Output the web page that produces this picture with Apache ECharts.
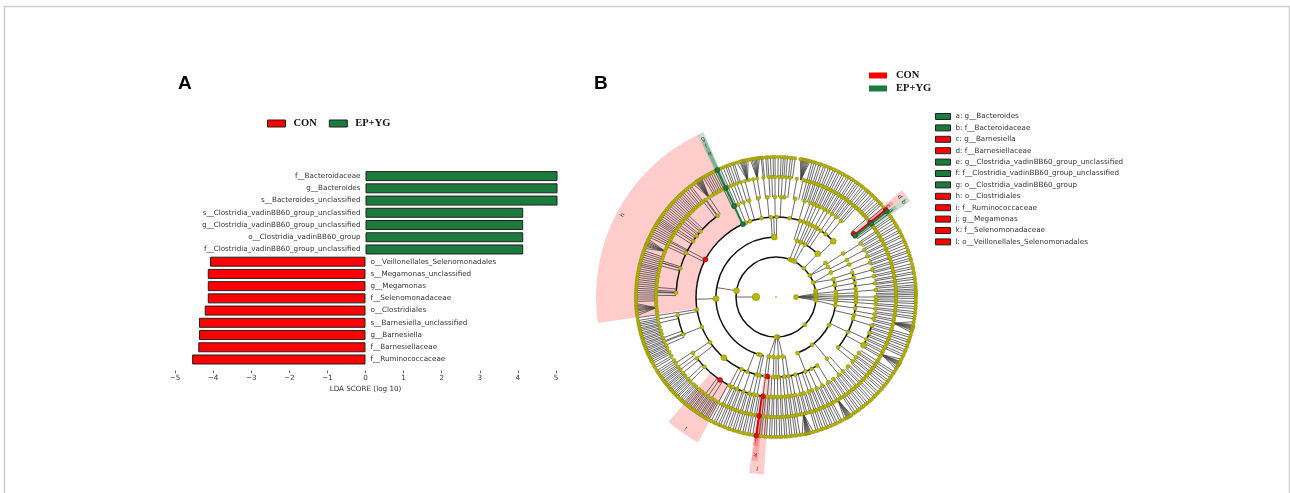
<!DOCTYPE html>
<html>
<head>
<meta charset="utf-8">
<style>html,body{margin:0;padding:0;background:#fff;}</style>
<script src="https://cdn.jsdelivr.net/npm/echarts@6/dist/echarts.min.js"></script>
</head>
<body>
<div id="chart-dom" style="width:1290px;height:493px;"></div>
<script>
// panel A, top row first
const taxa = ['f__Bacteroidaceae','g__Bacteroides','s__Bacteroides_unclassified','s__Clostridia_vadinBB60_group_unclassified','g__Clostridia_vadinBB60_group_unclassified','o__Clostridia_vadinBB60_group','f__Clostridia_vadinBB60_group_unclassified','o__Veillonellales_Selenomonadales','s__Megamonas_unclassified','g__Megamonas','f__Selenomonadaceae','o__Clostridiales','s__Barnesiella_unclassified','g__Barnesiella','f__Barnesiellaceae','f__Ruminococcaceae'];
const conScores = [null,null,null,null,null,null,null,-4.08,-4.14,-4.14,-4.14,-4.22,-4.37,-4.37,-4.39,-4.55];
const epygScores = [5.04,5.04,5.04,4.14,4.14,4.14,4.14,null,null,null,null,null,null,null,null,null];
const scoreTicks = [-5,5];

// panel B, clades a to l: angle from, angle to, inner radius, outer radius
const cladeNames = ['a: g__Bacteroides','b: f__Bacteroidaceae','c: g__Barnesiella','d: f__Barnesiellaceae','e: g__Clostridia_vadinBB60_group_unclassified','f: f__Clostridia_vadinBB60_group_unclassified','g: o__Clostridia_vadinBB60_group','h: o__Clostridiales','i: f__Ruminococcaceae','j: g__Megamonas','k: f__Selenomonadaceae','l: o__Veillonellales_Selenomonadales'];
const cladeGroups = ['EP+YG','EP+YG','CON','CON','EP+YG','EP+YG','EP+YG','CON','CON','CON','CON','CON'];
const cladeFrom = [36.2,35.6,38.2,37.6,114.2,114,113.8,115.6,229.3,261,261.5,261.3];
const cladeTo = [37.6,37.6,39.8,40.3,115.4,115.6,115.8,188.3,241.8,263,263.6,266.1];
const cladeInner = [120,100,120,100,120,100,80,80,100,120,100,80];
const cladeOuter = [150,165,150,165,164,172,180,180,165,150,165,178];

// cladogram rings, node angles in degrees read counter-clockwise from east
const ring20 = [180,0];
const ring40 = [171,70,68,65,62,46,32.5,21,9,5,3,1,359,357,355,316,273,272,271,270];
const ring60 = [91.6,181.6,253,255,263,267.5,272.3,276.5,291,307,332,352,356,358,0,2,5,11.6,17,24,30,34.5,46,61,65.6,69.5];
const ring80 = [44.3,51.7,56,58.8,60.5,62.9,65,67,70,72.5,80.3,89.5,93.6,100.4,109,112,114.4,152,189,202,214.5,229.4,244.5,249,256,258,262,264,268,270,272,276,279,284,291.6,296.4,301,309.6,321,334,344.4,347,352,356,358,0,1,3,6,10,14,17.8,23.9,27.6,33];
const ring100 = [0,4,7.9,12,15.8,20,24,28,32.3,37.7,39.3,49.5,53,56,58.7,61,63.9,66,67.9,70,73.4,79,85.2,87,90.6,95,100.3,105.6,109,112.2,114.7,125.6,139,142.5,146,153.9,163.3,177.5,190.5,202,214,217.7,224.4,236,242.2,244.4,247,251,254.6,257,259,262.5,265,267,269,271,273,275,277,279,281,284,286,289,291,294,297.6,301.6,305,309,312,316,320,323,326,331.2,335,339,343.4,347.4,350,353.3,356,358];
const ring120 = [0.2,1.1,1.9,3,3.8,5,5.9,7.2,7.9,9.3,10.1,11.6,12.5,14,14.8,16.2,17.1,18.6,19.4,20.9,21.8,23.2,24.1,25.6,26.4,27.9,28.8,30.2,31.1,32.5,33.4,34.8,35.6,36.6,37.6,38.4,40.8,41.6,42.9,43.8,45,45.9,47.2,48.1,49.3,50.2,51.5,52.4,53.6,54.5,55.8,56.7,57.9,58.8,60.1,61,62.2,63.1,64.4,65.3,66.5,67.4,68.7,69.6,70.8,71.7,73,73.9,75.1,76,76.9,80,83.2,85.1,87,88.6,90.5,92,93.4,96,99,101,103,105,107,109,110.5,112,113.5,114.7,116,117.3,118.3,119.7,120.7,122.1,123.9,126,127.3,128.3,129.7,131,132.1,133.5,134.5,135.9,137,138.3,139.3,140.7,141.7,143.1,144.1,145.5,146.5,147.9,149,150.3,151.3,152.7,153.9,155.2,156.2,157.6,158.6,160,161,162.4,163.4,164.8,165.8,167.2,168.2,169.6,170.6,172,173,174.4,175.4,176.8,177.8,179.2,180.2,181.6,182.6,184,185.1,186.5,187.5,188.9,190.6,192.5,194.2,196.2,197.9,199.9,201.5,203.6,205.2,207.3,209.3,211.7,213.4,215.5,217.2,219.2,220.9,222.9,224.6,226.7,228.3,230.3,232,234,235.6,237.6,239.3,241.3,243.4,244.3,245.8,246.7,248.1,249,250.4,251.3,252.7,253.6,255,255.9,257.3,258.2,259.6,260.6,261.9,263.3,264.2,265.6,266.5,267.9,268.8,270.2,271.1,272.5,273.4,274.8,275.7,277.1,278,279.4,280.3,281.7,282.6,284,284.9,286.3,287.2,288.6,289.5,290.9,291.8,293.2,294.1,295.5,296.4,297.8,298.7,300.1,301,302.4,303.3,304.7,305.6,307,307.9,309.3,310.2,311.6,312.5,313.9,314.8,316.2,317.1,318.5,319.4,320.8,321.7,323.1,324,325.4,326.3,327.7,328.6,330,330.9,332.3,333.2,334.6,335.5,336.9,337.8,339.2,340.1,341.5,342.4,343.8,344.7,346.1,347,348.4,349.3,350.7,351.6,353,353.9,355.3,356.2,357.6,358.5,359.5];
const ring140 = [0.3,1.1,1.8,2.6,3.3,4.2,5,6.1,7.3,8.2,9.6,10.4,11.7,12.6,13.8,15.2,16.1,17.3,18.6,19.4,20.7,21.9,23.1,24,25.4,26.3,27.6,28.5,29.9,30.8,32,33.2,34.3,35.1,36.4,37.6,38.4,39.8,41.2,42.1,43,44.2,45.1,46.3,47.2,48.4,49.3,50.2,51.4,52.3,53.5,54.4,55.3,56.5,57.4,58.6,59.5,60.7,61.6,62.8,63.7,64.9,65.8,67,67.9,69.1,70,71.2,72.1,73.3,74.2,75.1,75.9,76.5,77,77.5,78,78.5,79,79.5,80,82.1,83.2,84.1,85.3,86.2,87,87.9,89.1,90.4,91.2,92.3,93.4,94.2,95.5,96.1,96.8,97.4,98,98.6,99.2,99.9,100.6,101.5,102.4,103,103.5,104,104.5,105,106.2,107.3,108.1,109.2,110.3,111.1,112.2,113.4,114.8,115.9,116.8,117.7,118.6,119.5,120.4,121.3,122,122.4,122.8,123.2,123.6,124,124.4,124.8,125.2,126.3,127.4,128.3,129.4,130.3,131.4,132.3,133.1,133.9,134.8,135.7,136.6,137.5,138.4,139.3,140.2,141.1,142,142.9,143.8,144.7,145.6,146.3,147,147.7,148.4,149.3,150.2,151.1,152,152.9,153.8,154.7,155.6,156.3,157,157.6,158.2,158.8,159.7,160.6,161.5,162.4,163.3,164.2,165.1,166,166.7,167.4,168.3,169.2,170.1,171,171.9,172.8,173.7,174.6,175.5,176.4,177.3,178.2,179.1,180,180.9,181.8,182.7,183.4,184,184.6,185.2,185.8,186.7,187.6,188.5,189.7,190.6,191.3,192,192.8,193.4,194.1,194.9,195.5,196.2,197,197.6,198.3,199.1,199.7,200.4,201.2,201.8,202.5,203.3,203.9,204.6,205.4,206,206.7,207.5,208.3,209.5,210.4,211.7,212.6,213.5,214.4,215.1,215.8,216.6,217.2,217.9,218.7,219.3,220,220.8,221.4,222.1,222.9,223.5,224.2,225,225.6,226.5,227.2,227.9,228.7,229.3,230,230.8,231.4,232.1,232.9,233.5,234.2,235,235.6,236.3,237.1,237.7,238.4,239.2,239.8,240.5,241.3,242.4,243.6,244.5,245.7,246.6,247.8,248.7,249.9,250.8,252,252.9,254.1,255,256.2,257.1,258.3,259.2,260.4,261.9,263.1,264,265.2,266.1,267.3,268.2,269.4,270.3,271.5,272.4,273.6,274.5,275.7,276.6,277.8,278.7,279.9,280.8,282,282.4,282.8,283.2,283.6,284,284.4,285.5,286.7,287.6,288.8,289.7,290.9,291.8,293,293.9,295.1,296,297.2,298.1,299.3,300.2,300.6,301,301.4,301.8,302.2,302.6,303.7,304.6,305.8,306.7,307.9,308.8,310,310.9,312.1,313,314.2,315.1,316.3,317.2,318.4,319.3,320.5,321.4,322.6,323.5,324.7,325.6,326.8,327.7,328.9,329.8,330.6,331,331.4,331.8,332.2,332.6,333.6,334.8,335.7,336.9,337.8,339,339.9,341.1,342,343.2,344.1,345.3,346.2,346.7,347.1,347.5,347.9,348.3,348.7,349.8,351,351.9,353.1,354,355.2,356.1,357.3,358.2,359.4];

// dark fans in the outer band: leaves close to one of these angles meet at a single genus node
const fanCenters = [78,99,103.7,123.9,157.6,185.1,283.2,301,331.4,347.5];

// short radial stems and thick sibling arcs: inner radius, outer radius, angle / radius, from, to
const stems = [[20,40,180],[20,40,0],[40,60,171],[60,80,181.6],[60,80,91.6],[80,100,189],[80,120,152],[100,120,125.6],[100,120,163.3],[100,120,177.5],[100,120,202]];
const arcs = [[40,0,360],[60,92,258],[60,46,70],[60,0,17],[60,291,360],[80,44,265],[80,272,300],[80,320,360],[80,0,18],[100,125.6,177.5],[100,190.5,202],[100,217.7,263],[100,331,344]];
const bigNodes = [[40,171],[60,91.6],[60,181.6],[60,46],[80,44.3],[80,229.4],[100,331.2]];
const redNodes = [[80,152],[100,236],[80,264],[100,262.5],[120,261.9],[140,261.9],[100,39.3],[120,38.4],[140,38.4]];
const greenNodes = [[80,114.4],[100,114.7],[120,114.7],[140,114.8],[100,37.7],[120,37.6],[140,37.6]];

const RED = '#ff0000';
const GREEN = '#1b7a3c';

const rings = [[20,ring20],[40,ring40],[60,ring60],[80,ring80],[100,ring100],[120,ring120]];
const reach = [0,7,7,5,3.5,2.2];

function angleDiff(a, b) {
  const d = Math.abs(a - b);
  return Math.min(d, 360 - d);
}

// a node needs a close neighbour on the ring inside it; the two inner bands bundle onto it, the rest run straight in
const edges = [];
for (let i = 1; i < rings.length; i++) {
  rings[i][1].forEach(function (a) {
    let best = null, bestDiff = 999;
    rings[i-1][1].forEach(function (p) {
      const d = angleDiff(a, p);
      if (d < bestDiff) { bestDiff = d; best = p; }
    });
    if (bestDiff <= reach[i]) edges.push([rings[i-1][0], i < 3 ? best : a, rings[i][0], a]);
  });
}
ring140.forEach(function (a) {
  let inner = a;
  fanCenters.forEach(function (c) { if (angleDiff(a, c) <= 2.6) inner = c; });
  edges.push([120, inner, 140, a]);
});
stems.forEach(function (s) { edges.push([s[0], s[2], s[1], s[2]]); });

function pixelRadius(api, params, r) {
  const p = api.coord([r, 0]);
  return Math.hypot(p[0] - params.coordSys.cx, p[1] - params.coordSys.cy);
}

function nodeSeries(name, data, size, color, border, z) {
  return {
    name: name, type: 'scatter', coordinateSystem: 'polar', polarIndex: 0, silent: true, z: z,
    data: data, symbolSize: size,
    itemStyle: { color: color, borderColor: border, borderWidth: 0.4, opacity: 1 }
  };
}

const cladeSeries = cladeNames.map(function (name, i) {
  const color = cladeGroups[i] === 'CON' ? RED : GREEN;
  return {
    name: name, type: 'custom', coordinateSystem: 'polar', polarIndex: 0, silent: true, z: 1,
    itemStyle: { color: color },
    data: [[cladeInner[i], cladeFrom[i], cladeTo[i], cladeOuter[i]]],
    renderItem: function (params, api) {
      const cs = params.coordSys;
      const from = api.value(1), to = api.value(2);
      const mid = (from + to) / 2;
      const lp = api.coord([api.value(3) - 6, mid]);
      return {
        type: 'group',
        children: [{
          type: 'sector',
          shape: { cx: cs.cx, cy: cs.cy, r0: pixelRadius(api, params, api.value(0)), r: pixelRadius(api, params, api.value(3)),
            startAngle: -to * Math.PI / 180, endAngle: -from * Math.PI / 180, clockwise: true },
          style: { fill: color, opacity: color === RED ? 0.2 : 0.25 }
        }, {
          type: 'text',
          x: lp[0], y: lp[1],
          rotation: (mid - 90) * Math.PI / 180,
          style: { text: name.charAt(0), fill: '#333', font: '6px "DejaVu Sans"', align: 'center', verticalAlign: 'middle' }
        }]
      };
    }
  };
});

const edgeSeries = {
  name: 'edges', type: 'custom', coordinateSystem: 'polar', polarIndex: 0, silent: true, z: 2,
  data: edges,
  renderItem: function (params, api) {
    const a = api.coord([api.value(0), api.value(1)]);
    const b = api.coord([api.value(2), api.value(3)]);
    return { type: 'line', shape: { x1: a[0], y1: a[1], x2: b[0], y2: b[1] }, style: { stroke: '#444', lineWidth: 0.8 } };
  }
};

const arcSeries = {
  name: 'arcs', type: 'custom', coordinateSystem: 'polar', polarIndex: 0, silent: true, z: 3,
  data: arcs,
  renderItem: function (params, api) {
    const cs = params.coordSys;
    return {
      type: 'arc',
      shape: { cx: cs.cx, cy: cs.cy, r: pixelRadius(api, params, api.value(0)),
        startAngle: -api.value(2) * Math.PI / 180, endAngle: -api.value(1) * Math.PI / 180, clockwise: true },
      style: { stroke: '#111', lineWidth: 1.5, fill: null }
    };
  }
};

const cladeLine = {
  name: 'cladeLines', type: 'custom', coordinateSystem: 'polar', polarIndex: 0, silent: true, z: 4,
  data: [[100,261.9,140,261.9,0],[100,38.4,140,38.4,0],[80,114.6,140,114.8,1],[100,37.6,140,37.6,1]],
  renderItem: function (params, api) {
    const a = api.coord([api.value(0), api.value(1)]);
    const b = api.coord([api.value(2), api.value(3)]);
    return { type: 'line', shape: { x1: a[0], y1: a[1], x2: b[0], y2: b[1] }, style: { stroke: api.value(4) ? GREEN : '#d40000', lineWidth: 1.8 } };
  }
};

function ringData(r, list) {
  return list.map(function (a) { return [r, a]; });
}

const option = {
  animation: false,
  backgroundColor: '#fff',
  title: [
    { text: 'A', left: 178, top: 74, padding: 0, textStyle: { fontFamily: 'Liberation Sans', fontWeight: 'bold', fontSize: 19, color: '#000' } },
    { text: 'B', left: 594, top: 74, padding: 0, textStyle: { fontFamily: 'Liberation Sans', fontWeight: 'bold', fontSize: 19, color: '#000' } }
  ],
  graphic: [{
    type: 'polyline', silent: true,
    shape: { points: [[4.5,493],[4.5,6.5],[1289.5,6.5],[1289.5,493]] },
    style: { stroke: '#cfcfcf', lineWidth: 1.5, fill: null }
  }],
  legend: [
    { data: ['CON','EP+YG'], left: 267, top: 118, padding: 0, orient: 'horizontal', selectedMode: false, icon: 'rect', itemWidth: 18, itemHeight: 7, itemGap: 12,
      itemStyle: { borderColor: '#222', borderWidth: 1 },
      textStyle: { fontFamily: 'Liberation Serif', fontWeight: 'bold', fontSize: 10.5, color: '#111', padding: [0,0,0,3] } },
    { data: ['CON','EP+YG'], left: 869, top: 70, padding: 0, orient: 'vertical', selectedMode: false, icon: 'rect', itemWidth: 18, itemHeight: 6, itemGap: 2,
      itemStyle: { borderWidth: 0 },
      textStyle: { fontFamily: 'Liberation Serif', fontWeight: 'bold', fontSize: 10.5, color: '#111', padding: [0,0,0,4] } },
    { data: cladeNames, left: 935, top: 113, padding: 0, orient: 'vertical', selectedMode: false, icon: 'rect', itemWidth: 15, itemHeight: 6, itemGap: 4.4,
      itemStyle: { borderColor: '#222', borderWidth: 1 },
      textStyle: { fontFamily: 'DejaVu Sans', fontSize: 7.2, color: '#333' } }
  ],
  grid: { left: 175, width: 381, top: 170, height: 195.6 },
  xAxis: {
    type: 'value', min: scoreTicks[0], max: scoreTicks[1], interval: 1, offset: 5,
    axisLine: { show: false }, splitLine: { show: false },
    axisTick: { show: true, length: 2.5, lineStyle: { color: '#333', width: 0.8 } },
    axisLabel: { fontFamily: 'DejaVu Sans', fontSize: 7.2, color: '#333', margin: 4, formatter: function (v) { return v < 0 ? '\u2212' + (-v) : '' + v; } },
    name: 'LDA SCORE (log 10)', nameLocation: 'middle', nameGap: 15,
    nameTextStyle: { fontFamily: 'DejaVu Sans', fontSize: 7.2, color: '#333' }
  },
  yAxis: { type: 'category', data: taxa, inverse: true, show: false },
  polar: { center: [776, 297], radius: [0, 180] },
  radiusAxis: { type: 'value', min: 0, max: 180, show: false },
  angleAxis: { type: 'value', min: 0, max: 360, startAngle: 0, clockwise: false, show: false },
  series: [
    { name: 'CON', type: 'bar', data: conScores, barWidth: 10, barGap: '-100%', clip: false,
      itemStyle: { color: RED, borderColor: '#222', borderWidth: 1 },
      label: { show: true, position: 'right', distance: 5, formatter: '{b}', fontFamily: 'DejaVu Sans', fontSize: 7.2, color: '#333' } },
    { name: 'EP+YG', type: 'bar', data: epygScores, barWidth: 10, barGap: '-100%', clip: false,
      itemStyle: { color: GREEN, borderColor: '#222', borderWidth: 1 },
      label: { show: true, position: 'left', distance: 5, formatter: '{b}', fontFamily: 'DejaVu Sans', fontSize: 7.2, color: '#333' } },
    edgeSeries,
    arcSeries,
    cladeLine,
    nodeSeries('root', [[0,0]], 1.5, '#b8b800', '#b8b800', 5),
    nodeSeries('n20', ringData(20, ring20), function (v) { return v[1] === 180 ? 7.5 : 5; }, '#b8b800', '#77770a', 5),
    nodeSeries('n40', ringData(40, ring40), 4.2, '#b8b800', '#77770a', 5),
    nodeSeries('n60', ringData(60, ring60), 4.2, '#b8b800', '#77770a', 5),
    nodeSeries('n80', ringData(80, ring80), 4, '#b8b800', '#77770a', 5),
    nodeSeries('n100', ringData(100, ring100), 4, '#b8b800', '#77770a', 5),
    nodeSeries('n120', ringData(120, ring120), 3.6, '#b8b800', '#77770a', 5),
    nodeSeries('n140', ringData(140, ring140), 3.4, '#b8b800', '#77770a', 5),
    nodeSeries('big', bigNodes, 6, '#b8b800', '#77770a', 6),
    nodeSeries('red', redNodes, 5, RED, '#222', 7),
    nodeSeries('green', greenNodes, 5, GREEN, '#123', 7)
  ].concat(cladeSeries)
};

const myChart = echarts.init(document.getElementById('chart-dom'), null, { renderer: 'canvas' });
myChart.setOption(option, true);
</script>
</body>
</html>
